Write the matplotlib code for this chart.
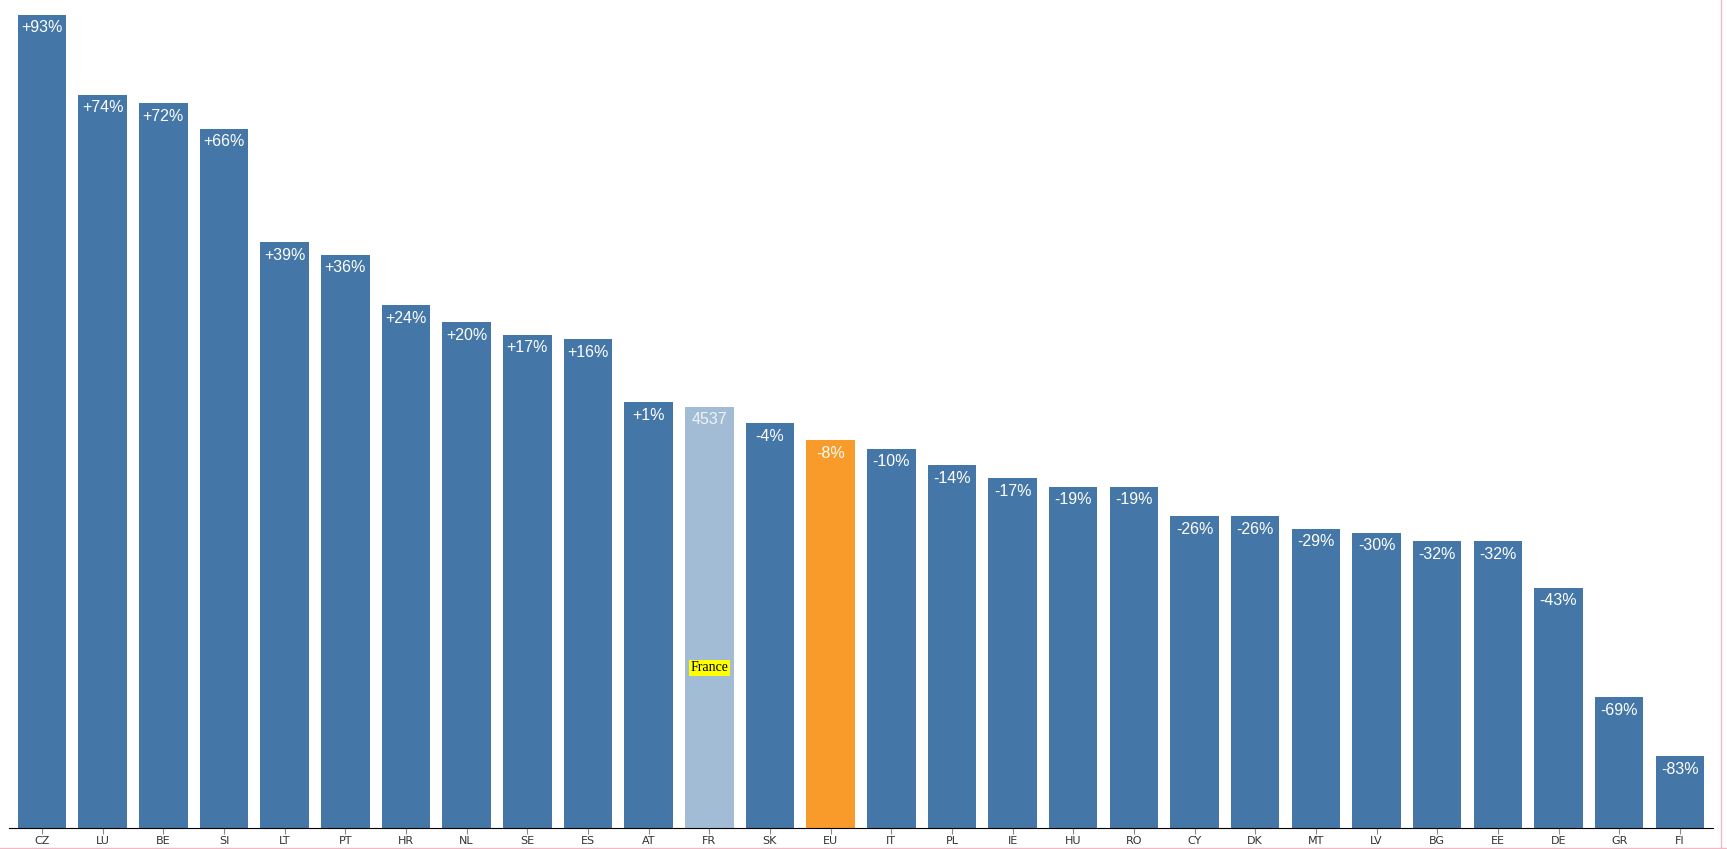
import matplotlib
matplotlib.use("Agg")
import matplotlib.pyplot as plt

countries = ["CZ","LU","BE","SI","LT","PT","HR","NL","SE","ES","AT","FR","SK","EU","IT","PL","IE","HU","RO","CY","DK","MT","LV","BG","EE","DE","GR","FI"]
pct = [93,74,72,66,39,36,24,20,17,16,1,0,-4,-8,-10,-14,-17,-19,-19,-26,-26,-29,-30,-32,-32,-43,-69,-83]
france_value = 4537
values = [8756,7894,7804,7531,6306,6170,5626,5444,5308,5263,4582,4537,4356,4174,4083,3902,3766,3675,3675,3357,3357,3221,3176,3085,3085,2586,1406,771]

colors = []
for c in countries:
    colors.append("#a3bcd6" if c == "FR" else ("#f89b2b" if c == "EU" else "#4477a8"))

fig = plt.figure(figsize=(17.27, 8.49), dpi=100)
ax = fig.add_axes([0.005, 0.025, 0.987, 0.975])
x = range(len(countries))
bars = ax.bar(x, values, width=0.8, color=colors)
ax.set_xlim(-0.55, len(countries) - 0.45)
ax.set_ylim(0, 8915)
for i, (v, p, c) in enumerate(zip(values, pct, countries)):
    if c == "FR":
        lab, col = str(france_value), "#eef3f8"
    else:
        lab = ("+%d%%" % p) if p > 0 else ("%d%%" % p)
        col = "white"
    ax.text(i, v - 60, lab, ha="center", va="top", color=col, fontsize=11.5,
            family="Liberation Sans")
fr = countries.index("FR")
ax.text(fr, values[fr] * 0.38, "France", ha="center", va="center", fontsize=10,
        family="Liberation Serif", color="black",
        bbox=dict(facecolor="yellow", edgecolor="none", pad=1))
ax.set_xticks(list(x))
ax.set_xticklabels(countries, fontsize=8, color="#333333")
ax.tick_params(axis="x", length=4, color="#888888", pad=2)
ax.set_yticks([])
for s in ["left", "right", "top"]:
    ax.spines[s].set_visible(False)
ax.spines["bottom"].set_color("black")
fig.add_artist(plt.Line2D([0.9965, 0.9965], [0, 1], color="#f2b8c6", lw=1))
fig.add_artist(plt.Line2D([0, 1], [0.001, 0.001], color="#f2b8c6", lw=1))
fig.savefig("out.png", dpi=100)
